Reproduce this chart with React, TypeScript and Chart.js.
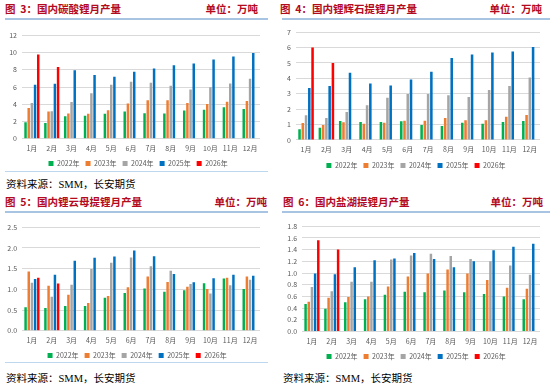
import React, { useEffect, useRef } from "react";
import { Chart, registerables } from "chart.js";

Chart.register(...registerables);

const months = ["1月", "2月", "3月", "4月", "5月", "6月", "7月", "8月", "9月", "10月", "11月", "12月"];
const seriesNames = ["2022年", "2023年", "2024年", "2025年", "2026年"];
const seriesColors = ["#00B050", "#ED7D31", "#A5A5A5", "#0070C0", "#FF0000"];

// 图3 国内碳酸锂月产量
const carb2022 = [1.92, 1.84, 2.62, 2.66, 2.89, 3.17, 2.97, 2.93, 3.28, 3.36, 3.64, 3.44];
const carb2023 = [3.56, 3.17, 2.93, 2.89, 3.32, 4.1, 4.46, 4.46, 4.14, 4.03, 4.3, 4.38];
const carb2024 = [4.14, 3.2, 4.26, 5.28, 6.25, 6.6, 6.49, 6.14, 5.71, 5.98, 6.41, 6.96];
const carb2025 = [6.25, 6.37, 7.94, 7.39, 7.19, 7.78, 8.13, 8.52, 8.72, 9.19, 9.54, 9.93];
const carb2026 = [9.77, 8.33, null, null, null, null, null, null, null, null, null, null];
const carbTicks = [0, 2, 4, 6, 8, 10, 12];

// 图4 国内锂辉石提锂月产量
const spod2022 = [0.7, 0.79, 1.23, 1.16, 1.16, 1.21, 0.97, 0.9, 1.12, 1.05, 1.16, 1.23];
const spod2023 = [1.1, 0.97, 1.14, 1.05, 1.12, 1.25, 1.25, 1.43, 1.27, 1.27, 1.51, 1.62];
const spod2024 = [1.6, 1.43, 1.82, 2.26, 2.74, 2.98, 2.98, 2.9, 2.79, 3.25, 3.51, 4.06];
const spod2025 = [3.38, 3.51, 4.37, 3.66, 3.53, 3.93, 4.43, 5.33, 5.55, 5.68, 5.75, 6.03];
const spod2026 = [6.0, 5.0, null, null, null, null, null, null, null, null, null, null];
const spodTicks = [0, 1, 2, 3, 4, 5, 6, 7];

// 图5 国内锂云母提锂月产量
const lepi2022 = [0.57, 0.55, 0.6, 0.6, 0.8, 0.91, 1.02, 0.94, 0.98, 1.15, 1.26, 1.01];
const lepi2023 = [1.43, 1.09, 0.87, 0.67, 0.84, 1.05, 1.31, 1.18, 1.06, 1.01, 1.28, 1.31];
const lepi2024 = [1.16, 0.82, 1.11, 1.49, 1.64, 1.77, 1.56, 1.45, 1.13, 0.9, 1.1, 1.23];
const lepi2025 = [1.25, 1.35, 1.69, 1.76, 1.79, 1.94, 1.8, 1.37, 1.17, 1.27, 1.35, 1.33];
const lepi2026 = [1.28, 1.14, null, null, null, null, null, null, null, null, null, null];
const lepiTicks = [0, 0.5, 1.0, 1.5, 2.0, 2.5];

// 图6 国内盐湖提锂月产量
const brine2022 = [0.47, 0.39, 0.5, 0.55, 0.63, 0.68, 0.67, 0.7, 0.67, 0.64, 0.6, 0.55];
const brine2023 = [0.51, 0.575, 0.59, 0.6, 0.77, 0.94, 0.99, 1.06, 0.99, 0.88, 0.75, 0.73];
const brine2024 = [0.76, 0.69, 0.85, 0.85, 1.23, 1.3, 1.33, 1.29, 1.24, 1.2, 1.13, 0.97];
const brine2025 = [0.99, 0.98, 1.1, 1.22, 1.25, 1.34, 1.24, 1.1, 1.2, 1.39, 1.45, 1.5];
const brine2026 = [1.56, 1.4, null, null, null, null, null, null, null, null, null, null];
const brineTicks = [0, 0.2, 0.4, 0.6, 0.8, 1.0, 1.2, 1.4, 1.6, 1.8];

const TICK_FONT = "'Noto Sans CJK SC', 'Liberation Sans', sans-serif";

type ChartBoxProps = {
  left: number;
  top: number;
  width: number;
  height: number;
  series: (number | null)[][];
  ticks: number[];
  decimals: number;
  shrink: number;
  legendShift: number;
  pad: { left: number; right: number; top: number; bottom: number };
};

function ChartBox(props: ChartBoxProps) {
  const ref = useRef<HTMLCanvasElement | null>(null);
  useEffect(() => {
    if (!ref.current) return;
    const tickVals = props.ticks;
    const shiftLegend = {
      id: "shiftLegend",
      afterLayout: (chart: any) => {
        const lg = chart.legend;
        if (lg) {
          lg.left += props.legendShift;
          lg.right += props.legendShift;
        }
      },
    };
    const chart = new Chart(ref.current, {
      type: "bar",
      data: {
        labels: months,
        datasets: props.series.map((vals, i) => ({
          label: seriesNames[i],
          data: vals,
          backgroundColor: seriesColors[i],
          borderWidth: 0,
          categoryPercentage: 0.8,
          barPercentage: 0.78,
        })),
      },
      plugins: [shiftLegend],
      options: {
        animation: false,
        responsive: false,
        maintainAspectRatio: false,
        layout: { padding: props.pad },
        plugins: {
          tooltip: { enabled: false },
          legend: {
            position: "bottom",
            labels: {
              boxWidth: 5,
              boxHeight: 5,
              padding: 6,
              color: "#595959",
              font: { size: 7, family: TICK_FONT },
            },
          },
        },
        scales: {
          x: {
            grid: { display: false, drawTicks: false },
            border: { display: false },
            ticks: {
              color: "#595959",
              font: { size: 7, family: TICK_FONT },
              padding: 5.5,
              maxRotation: 0,
              autoSkip: false,
            },
            afterFit: (scale: any) => {
              scale.height = scale.height - props.shrink;
            },
          },
          y: {
            min: tickVals[0],
            max: tickVals[tickVals.length - 1],
            grid: { color: "#D9D9D9", lineWidth: 1, drawTicks: false },
            border: { display: false },
            afterBuildTicks: (scale: any) => {
              scale.ticks = tickVals.map((v) => ({ value: v }));
            },
            ticks: {
              autoSkip: false,
              color: "#595959",
              font: { size: 7, family: TICK_FONT },
              padding: 5,
              callback: (v: any) => Number(v).toFixed(props.decimals),
            },
          },
        },
      },
    });
    return () => chart.destroy();
  }, []);
  return (
    <canvas
      ref={ref}
      width={props.width}
      height={props.height}
      style={{ position: "absolute", left: props.left, top: props.top, width: props.width, height: props.height }}
    />
  );
}

const titleColor = "#B40A1E";
const titleStyle: React.CSSProperties = {
  position: "absolute",
  fontFamily: "'Noto Sans CJK SC', sans-serif",
  fontWeight: 700,
  fontSize: 10.5,
  color: titleColor,
  lineHeight: "12px",
  whiteSpace: "pre",
};
const sourceStyle: React.CSSProperties = {
  position: "absolute",
  fontFamily: "'Liberation Serif', 'Noto Sans CJK SC', serif",
  fontSize: 10.5,
  color: "#000",
  lineHeight: "12px",
  whiteSpace: "nowrap",
};

function Header(p: { x: number; y: number; unitRight: number; lineX1: number; lineX2: number; title: string }) {
  return (
    <>
      <div style={{ ...titleStyle, left: p.x, top: p.y - 6 }}>{p.title}</div>
      <div style={{ ...titleStyle, left: p.unitRight - 60, width: 60, textAlign: "right", top: p.y - 6 }}>单位：万吨</div>
      <div
        style={{
          position: "absolute",
          left: p.lineX1,
          top: p.y + 9,
          width: p.lineX2 - p.lineX1,
          height: 2,
          background: "#A7C4E2",
        }}
      />
    </>
  );
}

export default function App() {
  return (
    <div style={{ position: "absolute", left: 0, top: 0, width: 550, height: 389, background: "#fff", overflow: "hidden" }}>
      <Header x={5} y={9} unitRight={258} lineX1={5} lineX2={268} title="图  3：国内碳酸锂月产量" />
      <Header x={280} y={9} unitRight={542} lineX1={282} lineX2={550} title="图  4：国内锂辉石提锂月产量" />
      <Header x={5} y={202} unitRight={267} lineX1={5} lineX2={268} title="图  5：国内锂云母提锂月产量" />
      <Header x={283} y={202} unitRight={543} lineX1={282} lineX2={550} title="图  6：国内盐湖提锂月产量" />

      <div style={{ position: "absolute", left: 5, top: 171, width: 263, height: 1, background: "#BDD7EE" }} />
      <div style={{ position: "absolute", left: 5, top: 362, width: 263, height: 1, background: "#BDD7EE" }} />

      <div style={{ ...sourceStyle, left: 6, top: 179 }}>资料来源：SMM，长安期货</div>
      <div style={{ ...sourceStyle, left: 6, top: 373 }}>资料来源：SMM，长安期货</div>
      <div style={{ ...sourceStyle, left: 283, top: 373 }}>资料来源：SMM，长安期货</div>

      <ChartBox
        left={0}
        top={26}
        width={270}
        height={151}
        series={[carb2022, carb2023, carb2024, carb2025, carb2026]}
        ticks={carbTicks}
        decimals={0}
        shrink={4.2}
        legendShift={6}
        pad={{ left: 4.2, right: 10, top: 3, bottom: 0 }}
      />
      <ChartBox
        left={275}
        top={23}
        width={275}
        height={156}
        series={[spod2022, spod2023, spod2024, spod2025, spod2026]}
        ticks={spodTicks}
        decimals={0}
        shrink={3.3}
        legendShift={5}
        pad={{ left: 7, right: 10, top: 3, bottom: 0 }}
      />
      <ChartBox
        left={0}
        top={218}
        width={270}
        height={151}
        series={[lepi2022, lepi2023, lepi2024, lepi2025, lepi2026]}
        ticks={lepiTicks}
        decimals={1}
        shrink={4.2}
        legendShift={6}
        pad={{ left: 2.3, right: 10, top: 3, bottom: 0 }}
      />
      <ChartBox
        left={275}
        top={217}
        width={275}
        height={153}
        series={[brine2022, brine2023, brine2024, brine2025, brine2026]}
        ticks={brineTicks}
        decimals={1}
        shrink={3.9}
        legendShift={5}
        pad={{ left: 7.3, right: 10, top: 3, bottom: 0 }}
      />
    </div>
  );
}
